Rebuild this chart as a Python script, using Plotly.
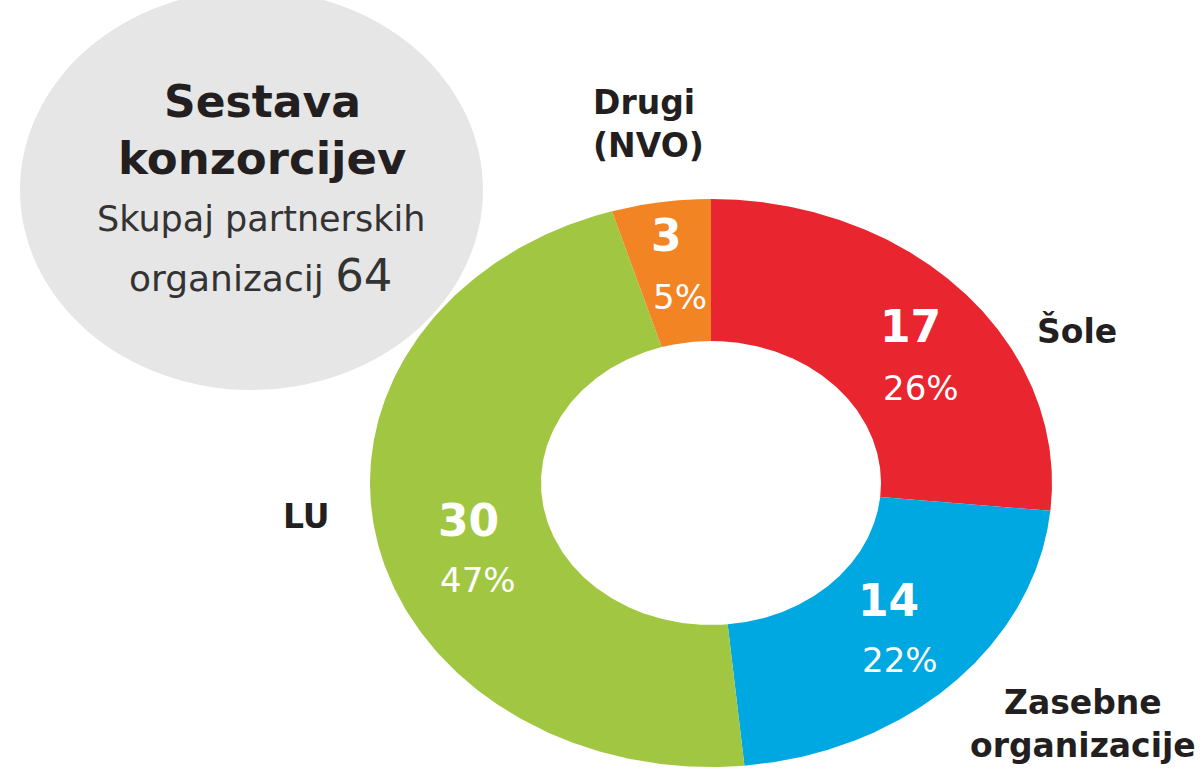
import numpy as np
import plotly.graph_objects as go

# ---- data ----
categories = ["Šole", "Zasebne organizacije", "LU", "Drugi (NVO)"]
counts = [17, 14, 30, 3]
percent_labels = ["26%", "22%", "47%", "5%"]
colors = ["#E9252F", "#00A8E2", "#A1C742", "#F38424"]
title_lines = ["Sestava", "konzorcijev"]
subtitle = "Skupaj partnerskih"
subtitle2 = "organizacij"
total_label = "64"

W, H = 1202, 769
cx, cy = 711, 483
rx_out, ry_out = 341, 284
rx_in, ry_in = 170, 142

fig = go.Figure()

total = sum(counts)
cum = np.cumsum([0] + counts) / total * 2 * np.pi
for i, (cat, v) in enumerate(zip(categories, counts)):
    t = np.linspace(cum[i], cum[i + 1], 240)
    xo = cx + rx_out * np.sin(t)
    yo = cy - ry_out * np.cos(t)
    xi = cx + rx_in * np.sin(t[::-1])
    yi = cy - ry_in * np.cos(t[::-1])
    xs = np.concatenate([xo, xi, xo[:1]])
    ys = np.concatenate([yo, yi, yo[:1]])
    fig.add_trace(go.Scatter(x=xs, y=ys, fill="toself", fillcolor=colors[i],
                             mode="lines", line=dict(width=0, color=colors[i]),
                             hoverinfo="text", text=f"{cat}: {v}", showlegend=False))

# gray ellipse behind
fig.add_shape(type="circle", xref="x", yref="y", x0=20, x1=483, y0=-10, y1=390,
              fillcolor="#E6E6E6", line=dict(width=0), layer="below")

FONT = "DejaVu Sans"
dark = "#231F20"

# header text
fig.add_annotation(x=262, y=101, text=f"<b>{title_lines[0]}</b>", showarrow=False,
                   font=dict(family=FONT, size=44, color=dark), xanchor="center", yanchor="middle")
fig.add_annotation(x=262, y=158, text=f"<b>{title_lines[1]}</b>", showarrow=False,
                   font=dict(family=FONT, size=45, color=dark), xanchor="center", yanchor="middle")
fig.add_annotation(x=261, y=219, text=subtitle, showarrow=False,
                   font=dict(family=FONT, size=35, color="#333333"), xanchor="center", yanchor="middle")
fig.add_annotation(x=260, y=275,
                   text=f"{subtitle2} <span style='font-size:45px'>{total_label}</span>",
                   showarrow=False,
                   font=dict(family=FONT, size=36, color="#333333"), xanchor="center", yanchor="middle")

# inside value labels (count bold, percent regular)
count_pos = [(910, 326), (888, 600), (468, 520), (666, 235)]
pct_pos = [(921, 388), (900, 660), (478, 580), (680, 297)]
for i in range(len(counts)):
    fig.add_annotation(x=count_pos[i][0], y=count_pos[i][1], text=f"<b>{counts[i]}</b>",
                       showarrow=False, font=dict(family=FONT, size=44, color="white"),
                       xanchor="center", yanchor="middle")
    fig.add_annotation(x=pct_pos[i][0], y=pct_pos[i][1], text=percent_labels[i],
                       showarrow=False, font=dict(family=FONT, size=34, color="white"),
                       xanchor="center", yanchor="middle")

# outside category labels
cat_text = ["Šole", "Zasebne<br>organizacije", "LU", "Drugi<br>(NVO)"]
cat_pos = [(1077, 331), (1083, 724), (306, 516), (648, 124)]
cat_align = ["center", "center", "center", "left"]
for i in range(len(categories)):
    fig.add_annotation(x=cat_pos[i][0], y=cat_pos[i][1], text=f"<b>{cat_text[i]}</b>",
                       showarrow=False, font=dict(family=FONT, size=33, color=dark),
                       xanchor="center", yanchor="middle", align=cat_align[i])

fig.update_layout(
    width=W, height=H, margin=dict(l=0, r=0, t=0, b=0),
    paper_bgcolor="white", plot_bgcolor="white", showlegend=False,
    xaxis=dict(range=[0, W], visible=False, fixedrange=True),
    yaxis=dict(range=[H, 0], visible=False, fixedrange=True),
)

fig.write_html("out.html", config={"displayModeBar": False},
               post_script="document.body.style.margin='0';")
